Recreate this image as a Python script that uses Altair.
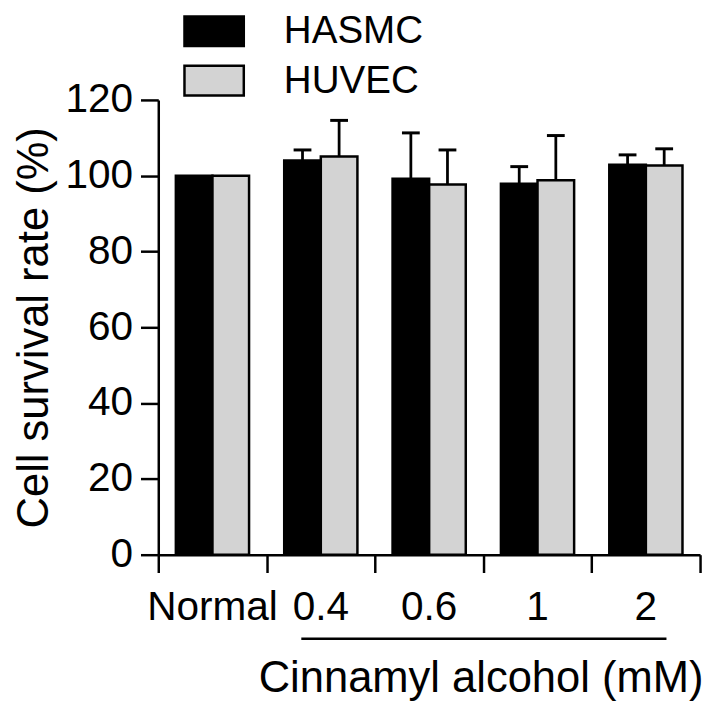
import altair as alt
import pandas as pd

doses = ["Normal", "0.4", "0.6", "1", "2"]
series = ["HASMC", "HUVEC"]
hasmc_mean = [100.0, 104.0, 99.2, 97.9, 102.9]
hasmc_err = [0.0, 2.8, 12.1, 4.5, 2.6]
huvec_mean = [100.0, 105.1, 97.7, 98.8, 102.7]
huvec_err = [0.0, 9.5, 9.1, 11.8, 4.4]
y_ticks = [0, 20, 40, 60, 80, 100, 120]
group_edges = [0, 1, 2, 3, 4, 5]
bracket_start = [1.32]
bracket_end = [4.69]

rows = []
for i, d in enumerate(doses):
    rows.append(dict(dose=d, series="HASMC", mean=hasmc_mean[i], err=hasmc_err[i]))
    rows.append(dict(dose=d, series="HUVEC", mean=huvec_mean[i], err=huvec_err[i]))
df = pd.DataFrame(rows)
df["upper"] = df["mean"] + df["err"]

bracket_df = pd.DataFrame({"start": bracket_start, "end": bracket_end})

FONT = "Liberation Sans"

x_enc = alt.X(
    "dose:N", sort=doses,
    scale=alt.Scale(paddingInner=0, paddingOuter=0),
    axis=alt.Axis(orient="bottom", title="Cinnamyl alcohol (mM)", labelAngle=0,
                  ticks=False, tickSize=0, domain=False, labelPadding=34,
                  labelFontSize=41, labelFont=FONT, labelColor="black",
                  titleFontSize=44, titleFont=FONT, titleFontWeight="normal",
                  titleColor="black", titleX=326, titleY=138,
                  titleBaseline="alphabetic", titleAlign="center"),
)
xoff = alt.XOffset("series:N", sort=series,
                   scale=alt.Scale(paddingInner=0, paddingOuter=0.48))
y_enc = alt.Y(
    "mean:Q",
    scale=alt.Scale(domain=[0, 120], nice=False, zero=True),
    axis=alt.Axis(values=y_ticks, title="Cell survival rate (%)", tickSize=18,
                  tickWidth=2.5, tickColor="black", domainColor="black",
                  domainWidth=2.5, labelFontSize=41, labelPadding=8,
                  labelFont=FONT, labelColor="black", titleFontSize=44,
                  titleFont=FONT, titleFontWeight="normal", titleColor="black",
                  titleX=-112, titleBaseline="alphabetic", grid=False),
)
color_enc = alt.Color(
    "series:N", sort=series,
    scale=alt.Scale(domain=series, range=["black", "#d3d3d3"]),
    legend=alt.Legend(title=None, orient="none", legendX=37, legendY=-89,
                      symbolType="M-2,-1H2V1H-2Z", symbolSize=900,
                      symbolStrokeColor="black", symbolStrokeWidth=2.5,
                      symbolOpacity=1,
                      labelFontSize=39, labelFont=FONT, labelColor="black",
                      labelOffset=51, rowPadding=9, padding=0),
)

base = alt.Chart(df)
bars = base.mark_bar(stroke="black", strokeWidth=2.5, opacity=1).encode(
    x=x_enc, xOffset=xoff, y=y_enc, color=color_enc)
errs = base.transform_filter("datum.err > 0").mark_rule(
    color="black", strokeWidth=2.8).encode(
    x=x_enc, xOffset=xoff, y="mean:Q", y2="upper:Q")
caps = base.transform_filter("datum.err > 0").mark_tick(
    color="black", thickness=3, size=18, opacity=1).encode(
    x=x_enc, xOffset=xoff, y="upper:Q")
layer_a = alt.layer(bars, errs, caps)

layer_b = alt.Chart(bracket_df).mark_rule(color="black", strokeWidth=2.5).encode(
    x=alt.X("start:Q", scale=alt.Scale(domain=[0, 5], nice=False, zero=False),
            axis=alt.Axis(orient="bottom", values=group_edges, labels=False,
                          title=None, tickSize=18, tickWidth=2.5,
                          tickColor="black", domainColor="black",
                          domainWidth=2.5, grid=False)),
    x2="end:Q",
    y=alt.value(545),
)

chart = alt.layer(layer_a, layer_b).resolve_scale(x="independent").resolve_axis(
    x="independent").properties(
    width=548, height=460,
    autosize=alt.AutoSizeParams(type="none"),
    padding={"left": 152, "top": 89, "right": 5, "bottom": 145},
).configure_view(stroke=None).configure_axis(grid=False)

chart.save("out.html", embed_options={"renderer": "svg", "actions": False})
